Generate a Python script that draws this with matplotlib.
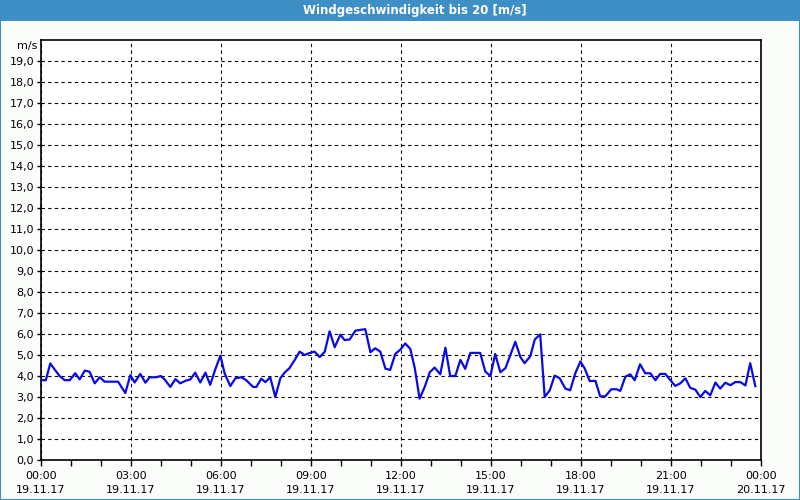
import matplotlib
matplotlib.use("Agg")
import matplotlib.pyplot as plt
from matplotlib.patches import Rectangle
from matplotlib.ticker import FixedLocator, MultipleLocator

TITLE = "Windgeschwindigkeit bis 20 [m/s]"
UNIT = "m/s"

# hours since 19.11.17 00:00 and wind speed
hours = [
    0.00, 0.16, 0.31, 0.46, 0.62, 0.79, 0.96, 1.14, 1.29, 1.46, 1.62, 1.79, 1.96,
    2.12, 2.35, 2.57, 2.81, 2.98, 3.12, 3.31, 3.48, 3.62, 3.84, 3.99, 4.12, 4.31,
    4.48, 4.64, 4.81, 4.98, 5.14, 5.31, 5.48, 5.64, 5.81, 5.98, 6.12, 6.31, 6.48,
    6.68, 6.84, 7.07, 7.18, 7.34, 7.48, 7.64, 7.81, 7.98, 8.12, 8.28, 8.46, 8.62,
    8.79, 8.96, 9.12, 9.29, 9.46, 9.62, 9.79, 9.98, 10.12, 10.29, 10.48, 10.81,
    10.98, 11.14, 11.31, 11.48, 11.64, 11.81, 11.98, 12.14, 12.31, 12.46, 12.62,
    12.79, 12.96, 13.12, 13.31, 13.48, 13.64, 13.81, 13.98, 14.14, 14.31, 14.64,
    14.81, 14.98, 15.14, 15.31, 15.48, 15.64, 15.81, 15.98, 16.12, 16.31, 16.46,
    16.64, 16.79, 16.96, 17.12, 17.29, 17.48, 17.64, 17.81, 17.98, 18.12, 18.29,
    18.48, 18.64, 18.81, 19.01, 19.18, 19.31, 19.48, 19.64, 19.79, 19.97, 20.14,
    20.31, 20.48, 20.64, 20.81, 20.98, 21.14, 21.31, 21.48, 21.64, 21.81, 21.98,
    22.14, 22.31, 22.48, 22.64, 22.81, 22.98, 23.14, 23.31, 23.48, 23.64, 23.81,
]
speed = [
    3.80, 3.80, 4.60, 4.30, 4.00, 3.80, 3.80, 4.13, 3.84, 4.26, 4.20, 3.65, 3.94,
    3.73, 3.73, 3.73, 3.19, 4.05, 3.69, 4.10, 3.68, 3.94, 3.94, 4.00, 3.84, 3.48,
    3.85, 3.65, 3.77, 3.84, 4.16, 3.69, 4.16, 3.58, 4.32, 4.97, 4.13, 3.52, 3.89,
    3.94, 3.80, 3.48, 3.48, 3.87, 3.71, 3.94, 3.00, 3.90, 4.16, 4.37, 4.77, 5.16,
    5.00, 5.10, 5.16, 4.90, 5.16, 6.13, 5.37, 5.97, 5.71, 5.74, 6.16, 6.23,
    5.13, 5.32, 5.16, 4.35, 4.29, 5.05, 5.26, 5.55, 5.29, 4.37, 2.92,
    3.48, 4.18, 4.40, 4.08, 5.35, 4.00, 4.00, 4.77, 4.34, 5.10, 5.10,
    4.21, 4.00, 5.05, 4.18, 4.37, 4.98, 5.63, 4.90, 4.61, 4.94, 5.74,
    5.98, 3.00, 3.32, 4.02, 3.89, 3.40, 3.32, 4.13, 4.69, 4.37, 3.76,
    3.77, 3.03, 3.03, 3.37, 3.37, 3.29, 3.97, 4.08, 3.80, 4.56, 4.13,
    4.13, 3.80, 4.10, 4.10, 3.80, 3.53, 3.65, 3.89, 3.44, 3.35, 3.00,
    3.29, 3.08, 3.69, 3.40, 3.68, 3.56, 3.71, 3.71, 3.55, 4.61, 3.52,
]

tick_hours = [0, 3, 6, 9, 12, 15, 18, 21, 24]
tick_labels = [
    "00:00\n19.11.17", "03:00\n19.11.17", "06:00\n19.11.17", "09:00\n19.11.17",
    "12:00\n19.11.17", "15:00\n19.11.17", "18:00\n19.11.17", "21:00\n19.11.17",
    "00:00\n20.11.17",
]
y_ticks = list(range(0, 20))

BAR_BLUE = "#3d8fc6"

fig = plt.figure(figsize=(8, 5), dpi=100, facecolor="#fbfdfb")

# title bar and frame
fig.patches.append(Rectangle((0, 1 - 21 / 500), 1, 21 / 500, transform=fig.transFigure,
                             facecolor=BAR_BLUE, edgecolor="none", zorder=0))
fig.patches.append(Rectangle((0.0006, 0.001), 0.9988, 0.998, transform=fig.transFigure,
                             facecolor="none", edgecolor=BAR_BLUE, linewidth=1.5, zorder=0))
fig.text(415 / 800, 1 - 10.5 / 500, TITLE, color="white", fontsize=8.5, fontweight="bold",
         ha="center", va="center")

ax = fig.add_axes([41 / 800, 40 / 500, 720 / 800, 420 / 500])
ax.set_facecolor("white")
ax.plot(hours, speed, color="#0a0ae6", linewidth=1.6, zorder=3)

ax.set_xlim(0, 24)
ax.set_ylim(0, 20)

ax.xaxis.set_major_locator(FixedLocator(tick_hours))
ax.set_xticklabels(tick_labels, fontsize=8, linespacing=1.5)
ax.xaxis.set_minor_locator(MultipleLocator(1))
ax.yaxis.set_major_locator(FixedLocator(y_ticks))
ax.set_yticklabels([f"{v},0" for v in y_ticks], fontsize=8)

ax.tick_params(axis="x", which="both", direction="out", length=4, width=1, pad=4)
ax.tick_params(axis="y", direction="out", length=3, width=1, pad=2)

ax.grid(True, axis="both", which="major", color="black", linestyle=(0, (3, 3)), linewidth=0.8)

for spine in ax.spines.values():
    spine.set_color("black")
    spine.set_linewidth(1.2)

ax.text(-0.005, 19.7, UNIT, transform=ax.get_yaxis_transform(), fontsize=8,
        ha="right", va="center")

fig.savefig("out.png", dpi=100, facecolor=fig.get_facecolor())
plt.close(fig)
